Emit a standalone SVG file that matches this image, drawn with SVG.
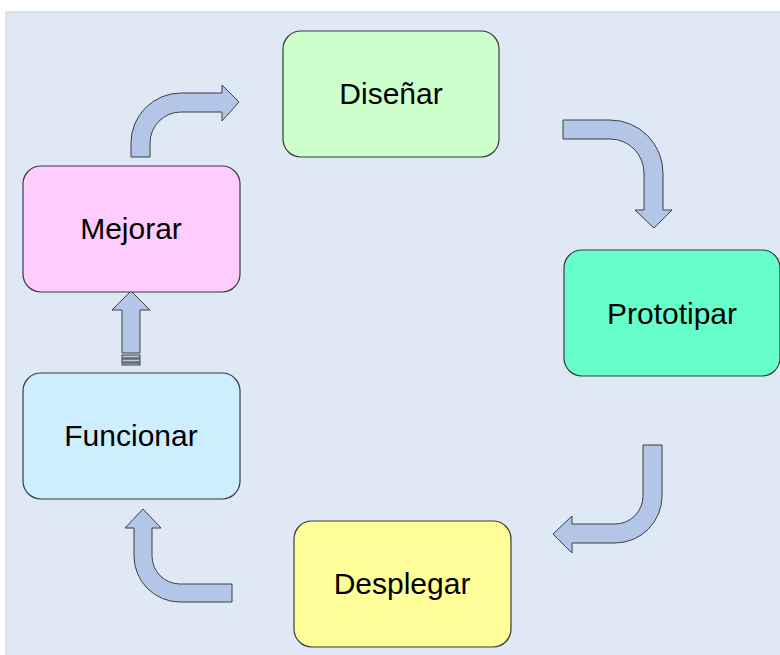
<svg xmlns="http://www.w3.org/2000/svg" width="780" height="655" viewBox="0 0 780 655">
  <style>
    .box { stroke: #3a3a3a; stroke-width: 1.2; }
    .lbl { font-family: "Liberation Sans", Arial, sans-serif; font-size: 30px; fill: #000; text-anchor: middle; dominant-baseline: central; }
    .arw { fill: #b4c6e7; stroke: #3f3f3f; stroke-width: 1; stroke-linejoin: miter; }
  </style>
  <rect x="0" y="0" width="780" height="655" fill="#ffffff"/>
  <rect x="6" y="12" width="780" height="650" fill="#dee9f5" stroke="#c9d0d8" stroke-width="1"/>

  <g id="connectors">
    <path class="arw" d="M131,157 L131,143 A50,50 0 0 1 181,93 L222,93 L222,85 L239,102 L222,121 L222,112 L181,112 A31,31 0 0 0 150,143 L150,157 Z"/>
    <path class="arw" d="M563,120 L610,120 A53,53 0 0 1 663,173 L663,210 L672,210 L654,228 L635,210 L644,210 L644,173 A34,34 0 0 0 610,139 L563,139 Z"/>
    <path class="arw" d="M643,445 L662,445 L662,496 A47,47 0 0 1 615,543 L572,543 L572,553 L553,534 L572,516 L572,524 L615,524 A28,28 0 0 0 643,496 Z"/>
    <path class="arw" d="M232,584 L232,602 L180,602 A46,46 0 0 1 134,556 L134,528 L125,528 L143,509 L161,528 L152,528 L152,556 A28,28 0 0 0 180,584 Z"/>
    <g>
      <path class="arw" d="M122,353 L122,310 L112,310 L131,291 L150,310 L140,310 L140,353 Z"/>
      <rect class="arw" x="122" y="355" width="18" height="3"/>
      <rect class="arw" x="122" y="359" width="18" height="3"/>
      <rect class="arw" x="122" y="363" width="18" height="2"/>
    </g>
  </g>

  <g id="disenar">
    <rect class="box" x="283" y="31" width="216" height="126" rx="18" fill="#ccffcc"/>
    <text class="lbl" x="391" y="93">Diseñar</text>
  </g>
  <g id="mejorar">
    <rect class="box" x="23" y="166" width="217" height="126" rx="18" fill="#ffccff"/>
    <text class="lbl" x="131" y="228">Mejorar</text>
  </g>
  <g id="prototipar">
    <rect class="box" x="564" y="250" width="216" height="126" rx="18" fill="#66ffcc"/>
    <text class="lbl" x="672" y="313">Prototipar</text>
  </g>
  <g id="funcionar">
    <rect class="box" x="23" y="373" width="217" height="126" rx="18" fill="#cceeff"/>
    <text class="lbl" x="131" y="435">Funcionar</text>
  </g>
  <g id="desplegar">
    <rect class="box" x="294" y="521" width="217" height="126" rx="18" fill="#ffff99"/>
    <text class="lbl" x="402" y="583">Desplegar</text>
  </g>
</svg>
